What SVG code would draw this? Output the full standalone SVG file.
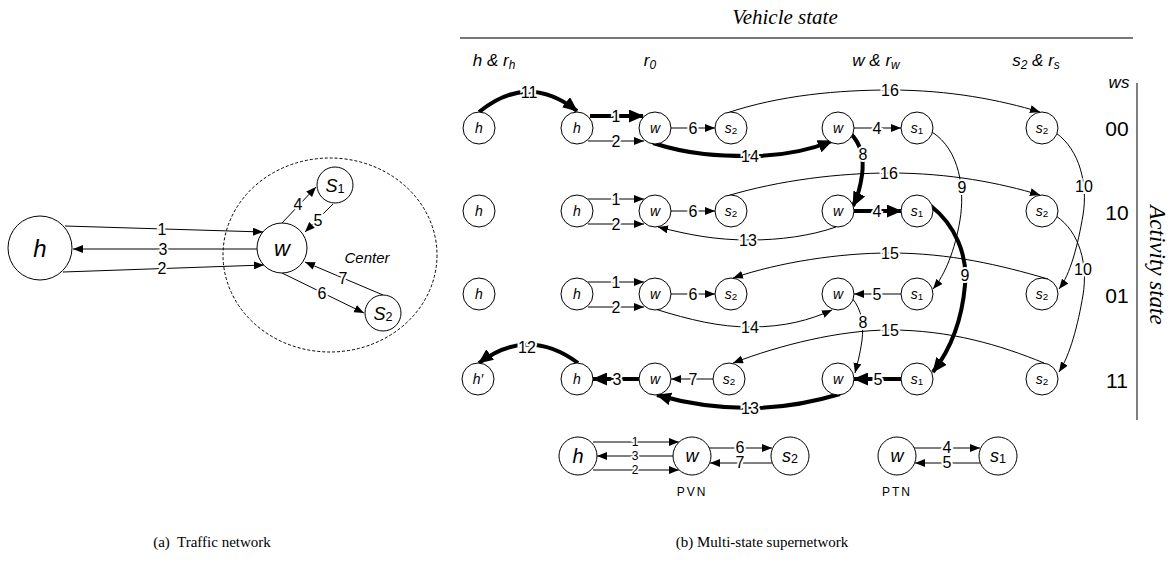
<svg xmlns="http://www.w3.org/2000/svg" width="1170" height="563" viewBox="0 0 1170 563">
<style>
.n{fill:#fff;stroke:#000;stroke-width:1}
.e{fill:none;stroke:#000;stroke-width:1}
.t{fill:none;stroke:#000;stroke-width:4}
.ea{marker-end:url(#a)}
.ta{marker-end:url(#b)}
.lb{font-family:"Liberation Sans",Arial,sans-serif;font-size:16px;text-anchor:middle;dominant-baseline:central;stroke:#fff;stroke-width:4;paint-order:stroke;fill:#000}
.sm{font-size:12px;stroke-width:3}
.nl{font-family:"Liberation Sans",Arial,sans-serif;font-style:italic;font-size:14px;text-anchor:middle;dominant-baseline:central}
.hd{font-family:"Liberation Sans",Arial,sans-serif;font-style:italic;font-size:17px;text-anchor:middle}
.st{font-family:"Liberation Sans",Arial,sans-serif;font-size:21px;text-anchor:middle;dominant-baseline:central}
.cap{font-family:"Liberation Serif","Times New Roman",serif;font-size:15px;text-anchor:middle}
.sub{font-size:70%}
</style>
<defs>
<marker id="a" markerUnits="userSpaceOnUse" markerWidth="10" markerHeight="8" refX="10" refY="4" orient="auto"><path d="M0,0 L10,4 L0,8 z" fill="#000"/></marker>
<marker id="b" markerUnits="userSpaceOnUse" markerWidth="15" markerHeight="13" refX="14" refY="6.5" orient="auto"><path d="M0,0 L15,6.5 L0,13 z" fill="#000"/></marker>
</defs>

<!-- (a) Traffic network -->
<g id="connectors-a">
<ellipse cx="330" cy="255" rx="107" ry="97" fill="none" stroke="#000" stroke-width="1" stroke-dasharray="3,2"/>
<path class="e ea" d="M65,226 L263,232"/>
<path class="e ea" d="M257,249 L73,249"/>
<path class="e ea" d="M63,272 L264,265"/>
<path class="e ea" d="M282,223 L316,187"/>
<path class="e ea" d="M333,204 L305,232"/>
<path class="e ea" d="M282,273 L364,313"/>
<path class="e ea" d="M383,295 L305,262"/>
<text class="lb" x="162" y="229">1</text>
<text class="lb" x="163" y="249">3</text>
<text class="lb" x="162" y="268">2</text>
<text class="lb" x="298" y="204">4</text>
<text class="lb" x="318" y="220">5</text>
<text class="lb" x="322" y="293">6</text>
<text class="lb" x="343" y="278">7</text>
<text x="367" y="263" style="font-family:'Liberation Sans',Arial,sans-serif;font-style:italic;font-size:15px" text-anchor="middle">Center</text>
</g>
<g id="a-h"><circle class="n" cx="40" cy="248" r="32"/><text class="nl" x="40" y="248" style="font-size:24px">h</text></g>
<g id="a-w"><circle class="n" cx="282" cy="248" r="25"/><text class="nl" x="282" y="248" style="font-size:22px">w</text></g>
<g id="a-s1"><circle class="n" cx="335" cy="185" r="18"/><text class="nl" x="335" y="186" style="font-size:18px">S<tspan class="sub" style="font-style:normal" dy="3">1</tspan></text></g>
<g id="a-s2"><circle class="n" cx="383" cy="313" r="18"/><text class="nl" x="383" y="314" style="font-size:18px">S<tspan class="sub" style="font-style:normal" dy="3">2</tspan></text></g>

<!-- (b) headers -->
<g id="headers">
<text x="785" y="24" style="font-family:'Liberation Serif','Times New Roman',serif;font-style:italic;font-size:21px" text-anchor="middle">Vehicle state</text>
<line x1="460" y1="38" x2="1133" y2="38" stroke="#777" stroke-width="2"/>
<text class="hd" x="494" y="66">h &amp; r<tspan class="sub" dy="3">h</tspan></text>
<text class="hd" x="650" y="66">r<tspan class="sub" dy="3">0</tspan></text>
<text class="hd" x="876" y="66">w &amp; r<tspan class="sub" dy="3">w</tspan></text>
<text class="hd" x="1036" y="66">s<tspan class="sub" dy="3">2</tspan><tspan dy="-3"> &amp; r</tspan><tspan class="sub" dy="3">s</tspan></text>
<text class="hd" x="1119" y="88">ws</text>
<line x1="1137" y1="83" x2="1137" y2="420" stroke="#000" stroke-width="1"/>
<text class="st" x="1117" y="128">00</text>
<text class="st" x="1117" y="212">10</text>
<text class="st" x="1117" y="295">01</text>
<text class="st" x="1117" y="380">11</text>
<text transform="translate(1150,265) rotate(90)" style="font-family:'Liberation Serif','Times New Roman',serif;font-style:italic;font-size:23px" text-anchor="middle">Activity state</text>
</g>

<!-- (b) connectors -->
<g id="connectors-b">
<!-- row 1 -->
<path class="t ta" d="M479,112 Q528,72 577,111"/>
<path class="t ta" d="M590,116 L643,116"/>
<path class="e ea" d="M588,141 L644,141"/>
<path class="e ea" d="M671,128 L715,128"/>
<path class="e ea" d="M727,113 C780,95 840,90 890,90 C950,90 1000,100 1040,112"/>
<path class="t ta" d="M653,143 C690,155 720,156 750,156 C785,156 810,150 832,141"/>
<path class="e ea" d="M854,128 L901,128"/>
<path class="t ta" d="M851,134 C862,145 864,160 862,175 C860,190 857,198 853,206"/>
<path class="e ea" d="M932,132 C960,150 965,190 960,220 C955,250 945,275 933,289"/>
<path class="e ea" d="M1056,133 C1080,150 1088,185 1083,215 C1078,245 1070,275 1059,289"/>
<!-- row 2 -->
<path class="e ea" d="M588,199 L644,199"/>
<path class="e ea" d="M588,224 L644,224"/>
<path class="e ea" d="M671,211 L715,211"/>
<path class="e ea" d="M727,196 C780,180 840,173 890,173 C950,173 1000,183 1040,195"/>
<path class="e ea" d="M836,227 C810,236 780,240 750,240 C715,240 690,235 658,227"/>
<path class="t ta" d="M854,211 L901,211"/>
<path class="t ta" d="M931,206 C955,225 968,255 965,285 C962,320 950,350 933,372"/>
<path class="e ea" d="M1056,216 C1080,232 1088,265 1083,295 C1078,325 1070,355 1059,372"/>
<!-- row 3 -->
<path class="e ea" d="M588,282 L644,282"/>
<path class="e ea" d="M588,307 L644,307"/>
<path class="e ea" d="M671,294 L715,294"/>
<path class="e ea" d="M1048,279 C1000,265 950,253 890,253 C840,253 780,262 733,278"/>
<path class="e ea" d="M655,309 C690,320 720,327 750,327 C785,327 810,320 832,310"/>
<path class="e ea" d="M901,294 L854,294"/>
<path class="e ea" d="M852,298 C862,310 864,325 862,340 C860,355 857,365 855,373"/>
<!-- row 4 -->
<path class="t ta" d="M578,363 Q528,326 479,363"/>
<path class="t ta" d="M639,379 L593,379"/>
<path class="e ea" d="M713,379 L671,379"/>
<path class="e ea" d="M1044,363 C1000,345 950,330 890,330 C840,330 780,345 733,363"/>
<path class="t ta" d="M840,394 C810,403 780,408 750,408 C715,408 685,403 657,395"/>
<path class="t ta" d="M901,379 L854,379"/>
<!-- labels -->
<text class="lb" x="529" y="92">11</text>
<text class="lb" x="616" y="116">1</text>
<text class="lb" x="616" y="141">2</text>
<text class="lb" x="693" y="128">6</text>
<text class="lb" x="890" y="90">16</text>
<text class="lb" x="750" y="156">14</text>
<text class="lb" x="877" y="128">4</text>
<text class="lb" x="863" y="154">8</text>
<text class="lb" x="962" y="187">9</text>
<text class="lb" x="1084" y="186">10</text>
<text class="lb" x="616" y="199">1</text>
<text class="lb" x="616" y="224">2</text>
<text class="lb" x="693" y="211">6</text>
<text class="lb" x="889" y="173">16</text>
<text class="lb" x="748" y="240">13</text>
<text class="lb" x="877" y="211">4</text>
<text class="lb" x="965" y="275">9</text>
<text class="lb" x="1083" y="269">10</text>
<text class="lb" x="616" y="282">1</text>
<text class="lb" x="616" y="307">2</text>
<text class="lb" x="693" y="294">6</text>
<text class="lb" x="890" y="253">15</text>
<text class="lb" x="750" y="327">14</text>
<text class="lb" x="877" y="294">5</text>
<text class="lb" x="863" y="322">8</text>
<text class="lb" x="527" y="347">12</text>
<text class="lb" x="617" y="379">3</text>
<text class="lb" x="693" y="379">7</text>
<text class="lb" x="890" y="330">15</text>
<text class="lb" x="750" y="408">13</text>
<text class="lb" x="878" y="379">5</text>
</g>

<!-- (b) nodes -->
<g id="r1-h"><circle class="n" cx="479" cy="128" r="16"/><text class="nl" x="479" y="128">h</text></g>
<g id="r1-h0"><circle class="n" cx="577" cy="128" r="16"/><text class="nl" x="577" y="128">h</text></g>
<g id="r1-w0"><circle class="n" cx="655" cy="128" r="16"/><text class="nl" x="655" y="128">w</text></g>
<g id="r1-s20"><circle class="n" cx="731" cy="128" r="16"/><text class="nl" x="731" y="128">s<tspan class="sub" style="font-style:normal" dy="2">2</tspan></text></g>
<g id="r1-w"><circle class="n" cx="838" cy="128" r="16"/><text class="nl" x="838" y="128">w</text></g>
<g id="r1-s1"><circle class="n" cx="917" cy="128" r="16"/><text class="nl" x="917" y="128">s<tspan class="sub" style="font-style:normal" dy="2">1</tspan></text></g>
<g id="r1-s2"><circle class="n" cx="1042" cy="128" r="16"/><text class="nl" x="1042" y="128">s<tspan class="sub" style="font-style:normal" dy="2">2</tspan></text></g>

<g id="r2-h"><circle class="n" cx="479" cy="211" r="16"/><text class="nl" x="479" y="211">h</text></g>
<g id="r2-h0"><circle class="n" cx="577" cy="211" r="16"/><text class="nl" x="577" y="211">h</text></g>
<g id="r2-w0"><circle class="n" cx="655" cy="211" r="16"/><text class="nl" x="655" y="211">w</text></g>
<g id="r2-s20"><circle class="n" cx="731" cy="211" r="16"/><text class="nl" x="731" y="211">s<tspan class="sub" style="font-style:normal" dy="2">2</tspan></text></g>
<g id="r2-w"><circle class="n" cx="838" cy="211" r="16"/><text class="nl" x="838" y="211">w</text></g>
<g id="r2-s1"><circle class="n" cx="917" cy="211" r="16"/><text class="nl" x="917" y="211">s<tspan class="sub" style="font-style:normal" dy="2">1</tspan></text></g>
<g id="r2-s2"><circle class="n" cx="1042" cy="211" r="16"/><text class="nl" x="1042" y="211">s<tspan class="sub" style="font-style:normal" dy="2">2</tspan></text></g>

<g id="r3-h"><circle class="n" cx="479" cy="294" r="16"/><text class="nl" x="479" y="294">h</text></g>
<g id="r3-h0"><circle class="n" cx="577" cy="294" r="16"/><text class="nl" x="577" y="294">h</text></g>
<g id="r3-w0"><circle class="n" cx="655" cy="294" r="16"/><text class="nl" x="655" y="294">w</text></g>
<g id="r3-s20"><circle class="n" cx="731" cy="294" r="16"/><text class="nl" x="731" y="294">s<tspan class="sub" style="font-style:normal" dy="2">2</tspan></text></g>
<g id="r3-w"><circle class="n" cx="838" cy="294" r="16"/><text class="nl" x="838" y="294">w</text></g>
<g id="r3-s1"><circle class="n" cx="917" cy="294" r="16"/><text class="nl" x="917" y="294">s<tspan class="sub" style="font-style:normal" dy="2">1</tspan></text></g>
<g id="r3-s2"><circle class="n" cx="1042" cy="294" r="16"/><text class="nl" x="1042" y="294">s<tspan class="sub" style="font-style:normal" dy="2">2</tspan></text></g>

<g id="r4-hp"><circle class="n" cx="478" cy="379" r="16"/><text class="nl" x="478" y="379">h′</text></g>
<g id="r4-h0"><circle class="n" cx="577" cy="379" r="16"/><text class="nl" x="577" y="379">h</text></g>
<g id="r4-w0"><circle class="n" cx="655" cy="379" r="16"/><text class="nl" x="655" y="379">w</text></g>
<g id="r4-s20"><circle class="n" cx="729" cy="379" r="16"/><text class="nl" x="729" y="379">s<tspan class="sub" style="font-style:normal" dy="2">2</tspan></text></g>
<g id="r4-w"><circle class="n" cx="838" cy="379" r="16"/><text class="nl" x="838" y="379">w</text></g>
<g id="r4-s1"><circle class="n" cx="917" cy="379" r="16"/><text class="nl" x="917" y="379">s<tspan class="sub" style="font-style:normal" dy="2">1</tspan></text></g>
<g id="r4-s2"><circle class="n" cx="1042" cy="379" r="16"/><text class="nl" x="1042" y="379">s<tspan class="sub" style="font-style:normal" dy="2">2</tspan></text></g>

<!-- PVN / PTN -->
<g id="connectors-pvn">
<path class="e ea" d="M593,442 L679,442"/>
<path class="e ea" d="M673,456 L597,456"/>
<path class="e ea" d="M593,470 L679,470"/>
<path class="e ea" d="M709,448 L772,448"/>
<path class="e ea" d="M772,463 L710,463"/>
<path class="e ea" d="M914,448 L980,448"/>
<path class="e ea" d="M980,463 L915,463"/>
<text class="lb sm" x="635" y="442">1</text>
<text class="lb sm" x="635" y="456">3</text>
<text class="lb sm" x="635" y="470">2</text>
<text class="lb" x="740" y="447">6</text>
<text class="lb" x="740" y="462">7</text>
<text class="lb" x="947" y="447">4</text>
<text class="lb" x="947" y="462">5</text>
</g>
<g id="pvn-h"><circle class="n" cx="578" cy="456" r="19"/><text class="nl" x="578" y="456" style="font-size:20px">h</text></g>
<g id="pvn-w"><circle class="n" cx="692" cy="456" r="19"/><text class="nl" x="692" y="456" style="font-size:18px">w</text></g>
<g id="pvn-s2"><circle class="n" cx="790" cy="456" r="19"/><text class="nl" x="790" y="456" style="font-size:18px">s<tspan class="sub" style="font-style:normal" dy="3">2</tspan></text></g>
<g id="ptn-w"><circle class="n" cx="897" cy="456" r="19"/><text class="nl" x="897" y="456" style="font-size:18px">w</text></g>
<g id="ptn-s1"><circle class="n" cx="998" cy="456" r="19"/><text class="nl" x="998" y="456" style="font-size:18px">s<tspan class="sub" style="font-style:normal" dy="3">1</tspan></text></g>
<text x="692" y="496" style="font-family:'Liberation Sans',Arial,sans-serif;font-size:12px;letter-spacing:2px" text-anchor="middle">PVN</text>
<text x="897" y="496" style="font-family:'Liberation Sans',Arial,sans-serif;font-size:12px;letter-spacing:2px" text-anchor="middle">PTN</text>

<!-- captions -->
<text class="cap" x="212" y="547" xml:space="preserve">(a)  Traffic network</text>
<text class="cap" x="762" y="547">(b) Multi-state supernetwork</text>
</svg>
